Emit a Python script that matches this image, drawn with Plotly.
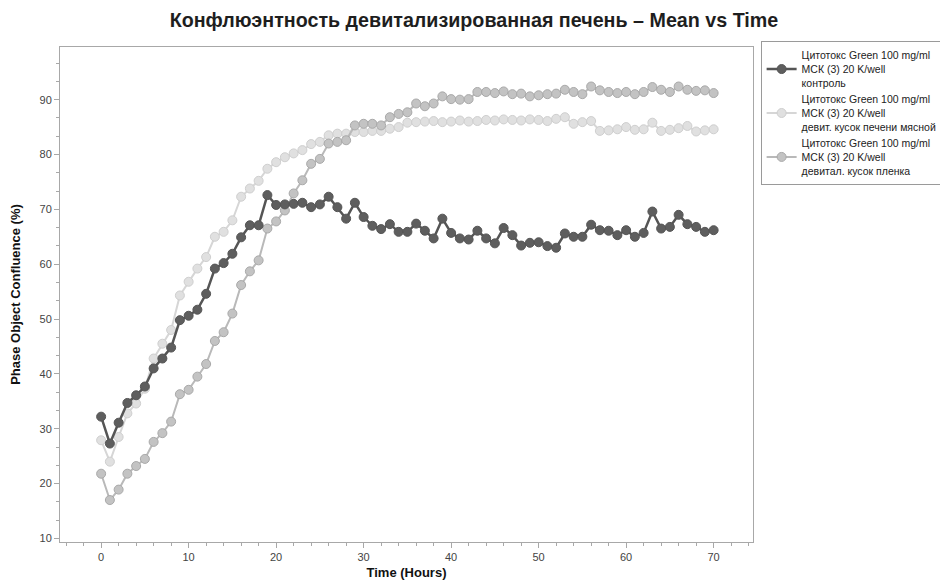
import plotly.graph_objects as go

hours = list(range(0, 71))

control = [32.2, 27.3, 31.1, 34.7, 36.1, 37.7, 41.0, 42.8, 44.8, 49.8,
           50.6, 51.7, 54.6, 59.2, 60.2, 61.9, 64.9, 67.1, 67.1, 72.6,
           70.8, 70.9, 71.0, 71.2, 70.4, 70.9, 72.3, 70.4, 68.3, 71.2,
           68.6, 67.0, 66.4, 67.3, 65.9, 65.9, 67.4, 66.1, 64.7, 68.3,
           65.7, 64.7, 64.5, 66.1, 64.7, 63.8, 66.6, 65.3, 63.4, 63.9,
           64.0, 63.3, 63.0, 65.6, 65.0, 65.0, 67.2, 66.2, 66.1, 65.3,
           66.2, 65.0, 65.7, 69.6, 66.5, 66.8, 69.0, 67.3, 66.8, 65.9,
           66.2]

liver = [27.9, 24.0, 28.5, 32.8, 34.6, 37.3, 42.8, 45.5, 48.0, 54.3,
         56.8, 59.2, 61.3, 65.0, 65.9, 68.0, 72.3, 73.8, 75.2, 77.4,
         78.6, 79.5, 80.2, 80.8, 81.9, 82.3, 83.5, 83.8, 83.8, 84.1,
         84.1, 84.3, 84.3, 84.7, 85.0, 85.8, 85.9, 86.0, 86.1, 85.9,
         86.0, 86.2, 86.0, 86.1, 86.3, 86.2, 86.4, 86.3, 86.2, 86.4,
         86.3, 86.1, 86.5, 86.8, 85.6, 85.9, 86.1, 84.3, 84.4, 84.6,
         85.0, 84.5, 84.6, 85.8, 84.3, 84.5, 84.8, 85.2, 84.2, 84.4,
         84.6]

film = [21.8, 17.0, 18.9, 21.8, 23.2, 24.5, 27.6, 29.2, 31.3, 36.3,
        37.1, 39.5, 41.8, 46.0, 47.6, 51.0, 56.2, 58.7, 60.7, 66.5,
        67.8, 69.8, 72.9, 75.3, 78.3, 79.2, 82.0, 82.3, 82.6, 85.3,
        85.6, 85.6, 85.3, 86.8, 87.4, 87.7, 89.3, 88.8, 89.3, 90.6,
        90.1, 90.0, 90.1, 91.4, 91.4, 91.2, 91.5, 91.0, 91.1, 90.6,
        90.8, 91.0, 91.1, 91.8, 91.4, 91.0, 92.4, 91.7, 91.4, 91.2,
        91.4, 91.0, 91.4, 92.3, 91.8, 91.4, 92.4, 91.8, 91.6, 91.7,
        91.2]

names = [
    "Цитотокс Green 100 mg/ml<br>МСК (3) 20 K/well<br>контроль",
    "Цитотокс Green 100 mg/ml<br>МСК (3) 20 K/well<br>девит. кусок печени мясной",
    "Цитотокс Green 100 mg/ml<br>МСК (3) 20 K/well<br>девитал. кусок пленка",
]

title_text = "Конфлюэнтность девитализированная печень – Mean vs Time"
x_title = "Time (Hours)"
y_title = "Phase Object Confluence (%)"
x_ticks = [0, 10, 20, 30, 40, 50, 60, 70]
y_ticks = [10, 20, 30, 40, 50, 60, 70, 80, 90]

FONT = "Liberation Sans, Arial, sans-serif"

fig = go.Figure()

fig.add_trace(go.Scatter(
    x=hours, y=liver, name=names[1], mode="lines+markers", legendrank=2,
    line=dict(color="#d6d6d6", width=2),
    marker=dict(size=9, color="#e0e0e0", line=dict(color="#cfcfcf", width=1)),
))
fig.add_trace(go.Scatter(
    x=hours, y=film, name=names[2], mode="lines+markers", legendrank=3,
    line=dict(color="#b9b9b9", width=2),
    marker=dict(size=9, color="#c3c3c3", line=dict(color="#a9a9a9", width=1)),
))
fig.add_trace(go.Scatter(
    x=hours, y=control, name=names[0], mode="lines+markers", legendrank=1,
    line=dict(color="#555555", width=2.5),
    marker=dict(size=9, color="#5e5e5e", line=dict(color="#555555", width=1)),
))

axis_common = dict(
    showline=True, linecolor="#a8a8a8", linewidth=1, mirror=True,
    showgrid=False, zeroline=False, automargin=False,
    ticks="outside", ticklen=5, tickcolor="#a8a8a8",
    tickfont=dict(family=FONT, size=11, color="#444444"),
)

# the page places the figure 8 px from the window's top-left corner
fig.update_layout(
    width=940, height=575,
    margin=dict(l=52, r=195, t=39, b=41, autoexpand=False),
    paper_bgcolor="white", plot_bgcolor="white",
    title=dict(text="<b>" + title_text + "</b>", x=0.4957, xref="container", xanchor="center",
               y=0.979, yref="container", yanchor="middle",
               font=dict(family=FONT, size=19.7, color="#1e1e1e")),
    xaxis=dict(range=[-4.7, 74.5], tickvals=x_ticks,
               minor=dict(dtick=2, tick0=0, ticks="outside", ticklen=3, tickcolor="#a8a8a8"),
               title=dict(text="<b>" + x_title + "</b>", standoff=5,
                          font=dict(family=FONT, size=13, color="#111111")),
               **axis_common),
    yaxis=dict(range=[9.35, 99.6], tickvals=y_ticks,
               minor=dict(dtick=10 / 3, tick0=10, ticks="outside", ticklen=3, tickcolor="#a8a8a8"),
               title=dict(text="<b>" + y_title + "</b>", standoff=15,
                          font=dict(family=FONT, size=13, color="#111111")),
               **axis_common),
    legend=dict(x=1.011, xanchor="left", y=1.012, yanchor="top",
                bordercolor="#9a9a9a", borderwidth=1, bgcolor="white",
                font=dict(family=FONT, size=10.5, color="#222222"),
                itemwidth=30, valign="middle", tracegroupgap=0),
    showlegend=True,
)

fig.write_html("out.html")
